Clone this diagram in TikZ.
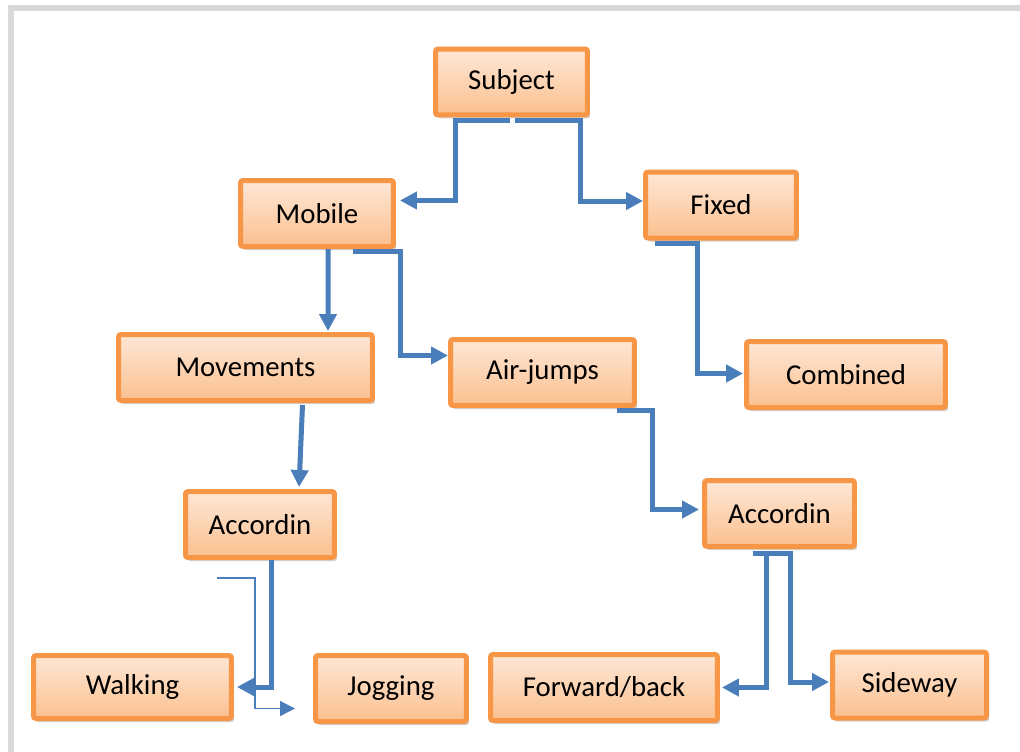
\documentclass[tikz,border=0pt]{standalone}
\usepackage{fontspec}
\setmainfont{Carlito}
\usepackage{tikz}
\usetikzlibrary{arrows.meta,calc,shadows}
\definecolor{boxorange}{HTML}{F79646}
\definecolor{boxtop}{HTML}{FEE7D6}
\definecolor{boxbottom}{HTML}{FBC08F}
\definecolor{linkblue}{HTML}{4A7EBB}
\definecolor{framegray}{HTML}{D9D9D9}

\begin{document}
\begin{tikzpicture}[x=0.02cm, y=-0.02cm,
  block/.style={draw=boxorange, line width=0.1cm, rounded corners=0.05cm, top color=boxtop, bottom color=boxbottom,
    minimum height=1.32cm, inner sep=0pt, align=center, font=\fontsize{16.4}{19}\selectfont,
    drop shadow={shadow xshift=0.05cm, shadow yshift=-0.07cm, opacity=0.18, fill=black}},
  link/.style={draw=linkblue, line width=0.1cm, -{Triangle[length=0.34cm, width=0.34cm]}},
  thinlink/.style={draw=linkblue, line width=0.7pt, -{Triangle[length=0.3cm, width=0.3cm]}}
]
\useasboundingbox (0,0) rectangle (1020,751);
\clip (0,0) rectangle (1020,751);

% frame
\draw[framegray, line width=0.12cm] (11,8) rectangle (1040,770);

\node[block, minimum width=3.04cm] (subject) at (511.5,82) {Subject};
\node[block, minimum width=3.06cm] (mobile) at (317,213.5) {Mobile};
\node[block, minimum width=3.02cm] (fixed) at (721,205) {Fixed};
\node[block, minimum width=5.08cm] (movements) at (245.5,367.5) {Movements};
\node[block, minimum width=3.68cm] (airjumps) at (542.5,372.5) {Air-jumps};
\node[block, minimum width=3.98cm] (combined) at (846,374.5) {Combined};
\node[block, minimum width=2.98cm] (accleft) at (260,524.5) {Accordin};
\node[block, minimum width=3.00cm] (accright) at (779.5,513.5) {Accordin};
\node[block, minimum width=3.96cm, minimum height=1.26cm] (walking) at (132.5,687) {Walking};
\node[block, minimum width=3.02cm] (jogging) at (391,688.5) {Jogging};
\node[block, minimum width=4.54cm] (forward) at (604,687.5) {Forward/back};
\node[block, minimum width=3.08cm] (sideway) at (909.5,685) {Sideway};

\draw[link] ($(subject.south)+(-2,3)$) -| ($(mobile.east)+(60,-13)$) -- ($(mobile.east)+(4,-13)$);
\draw[link] ($(subject.south)+(3,3)$) -| ($(fixed.west)+(-63,-4)$) -- ($(fixed.west)+(0,-4)$);
\draw[link] ($(mobile.south)+(11,0)$) -- ($(movements.north)+(82.5,-1)$);
\draw[link] ($(mobile.south)+(36,2)$) -| ($(airjumps.west)+(-48,-17)$) -- ($(airjumps.west)+(0,-17)$);
\draw[link] ($(fixed.south)+(-66,3)$) -| ($(combined.west)+(-47,-1)$) -- ($(combined.west)+(-1,-1)$);
\draw[link] ($(movements.south)+(57,2)$) -- ($(accleft.north)+(39,-2)$);
\draw[link] ($(airjumps.south)+(74,2)$) -| ($(accright.west)+(-50,-4)$) -- ($(accright.west)+(-3,-4)$);
\draw[link] ($(accleft.south)+(11,0)$) |- ($(walking.east)+(3,0)$);

\coordinate (stub) at (217,578);
\draw[thinlink] (stub) -| ($(jogging.west)+(-58,20)$) -- ($(jogging.west)+(-18,20)$);

\draw[link] ($(accright.south)+(-27,4)$) -| ($(forward.east)+(47,0)$) -- ($(forward.east)+(2,0)$);
\draw[link] ($(accright.south)+(-14,4)$) -| ($(sideway.west)+(-40,-3)$) -- ($(sideway.west)+(-1,-3)$);

\end{tikzpicture}
\end{document}
